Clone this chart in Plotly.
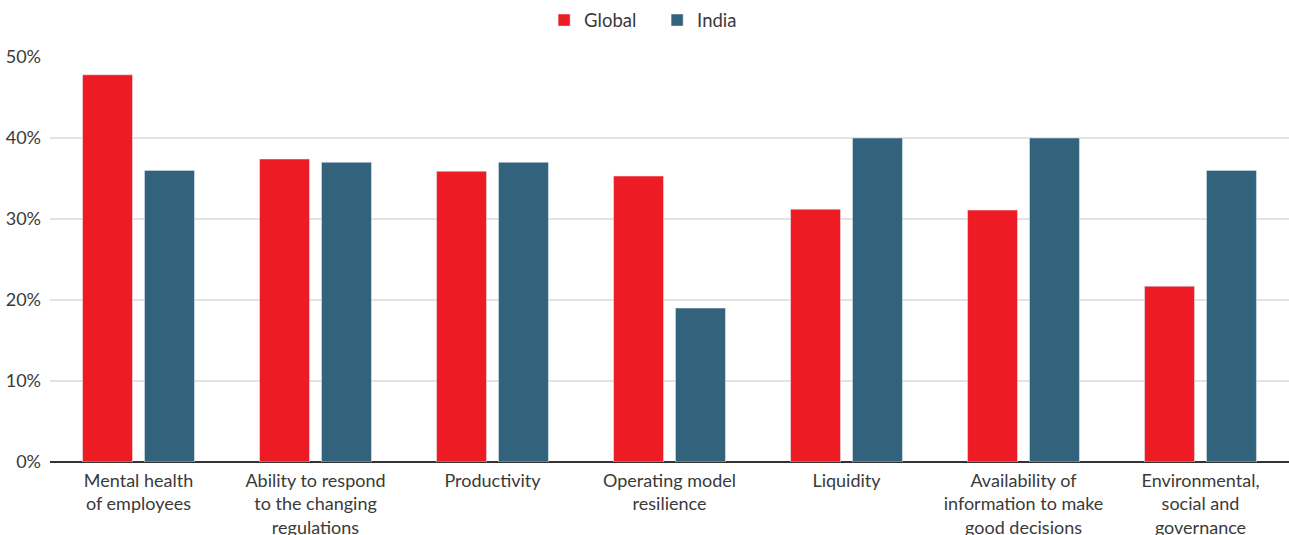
import plotly.graph_objects as go

categories = [
    "Mental health<br>of employees",
    "Ability to respond<br>to the changing<br>regulations",
    "Productivity",
    "Operating model<br>resilience",
    "Liquidity",
    "Availability of<br>information to make<br>good decisions",
    "Environmental,<br>social and<br>governance",
]
global_vals = [47.8, 37.4, 35.9, 35.3, 31.2, 31.1, 21.7]
india_vals = [36.0, 37.0, 37.0, 19.0, 40.0, 40.0, 36.0]
y_ticks = [0, 10, 20, 30, 40, 50]
y_tick_text = ["0%", "10%", "20%", "30%", "40%", "50%"]

FONT = "Lato, 'Noto Sans', sans-serif"
TXT = "#3a3a3a"

fig = go.Figure()
fig.add_trace(go.Bar(name="Global", x=categories, y=global_vals, marker_color="#ed1c24"))
fig.add_trace(go.Bar(name="India", x=categories, y=india_vals, marker_color="#33627c"))

fig.update_layout(
    width=1289, height=535,
    margin=dict(l=50, r=0, t=57, b=73),
    paper_bgcolor="white", plot_bgcolor="white",
    barmode="group", bargap=0.30, bargroupgap=0.194,
    font=dict(family=FONT, size=18, color=TXT),
    showlegend=True,
    legend=dict(orientation="h", x=0.49, xanchor="center", y=1.09, yanchor="middle",
                font=dict(size=18.5, color=TXT), traceorder="normal", entrywidth=68),
)
fig.update_xaxes(showgrid=False, showline=False, ticks="", tickfont=dict(size=18, color=TXT),
                 tickangle=0, automargin=False, ticklabelstandoff=6)
fig.update_yaxes(range=[0, 50], tickvals=y_ticks, ticktext=y_tick_text, showgrid=True,
                 gridcolor="#e3e3e3", gridwidth=1.5, zeroline=True, zerolinecolor="#333333",
                 zerolinewidth=1.5, showline=False, tickfont=dict(size=18, color=TXT),
                 ticklabelstandoff=8, automargin=False)

fig.write_html("out.html", config={"displayModeBar": False},
               post_script="document.body.style.margin='0';")
